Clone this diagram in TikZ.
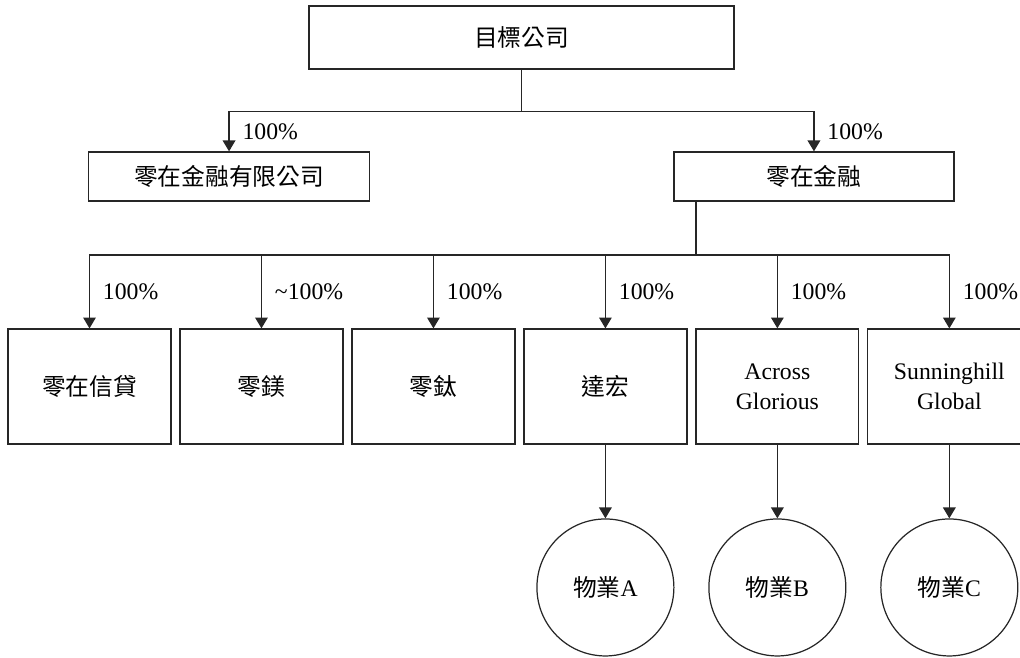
\documentclass[tikz,border=0pt]{standalone}
\usepackage{fontspec}
\setmainfont{Liberation Serif}
\newfontfamily\cjk{Noto Sans CJK TC}
\usepackage{tikz}
\usetikzlibrary{arrows.meta,positioning,calc}

\begin{document}
\begin{tikzpicture}[%
x=0.02cm, y=-0.02cm,
>={Triangle[width=7.2pt,length=6.2pt]},
node distance=3.44cm,
on grid,
every node/.style={font=\fontsize{13.5}{17}\selectfont},
box/.style={draw=black!85, line width=0.7pt, rectangle, align=center},
unit/.style={box, minimum width=3.26cm, minimum height=2.3cm},
prop/.style={draw=black!85, line width=0.7pt, circle, minimum size=2.74cm, inner sep=0pt},
link/.style={draw=black!85, line width=0.7pt},
pct/.style={right, xshift=4pt}
]
\useasboundingbox (0,0) rectangle (1020,658);

\node[box, minimum width=8.5cm, minimum height=1.26cm] (tc) at (521.5,37.5) {{\cjk 目標公司}};
\node[box, minimum width=5.62cm, minimum height=0.98cm] (zzltd) [below left=2.78cm and 5.85cm of tc] {{\cjk 零在金融有限公司}};
\node[box, minimum width=5.6cm, minimum height=0.98cm] (zz) [below right=2.78cm and 5.85cm of tc] {{\cjk 零在金融}};

\node[unit] (xd) at (89.5,386.5) {{\cjk 零在信貸}};
\node[unit] (mg) [right=of xd] {{\cjk 零鎂}};
\node[unit] (ti) [right=of mg] {{\cjk 零鈦}};
\node[unit] (dh) [right=of ti] {{\cjk 達宏}};
\node[unit] (ag) [right=of dh] {Across\\Glorious};
\node[unit] (sg) [right=of ag] {Sunninghill\\Global};

\node[prop] (pa) [below=4.02cm of dh] {{\cjk 物業}A};
\node[prop] (pb) [below=4.02cm of ag] {{\cjk 物業}B};
\node[prop] (pc) [below=4.02cm of sg] {{\cjk 物業}C};

% first level
\draw[link] (tc.south) -- ++(0,42) coordinate (b1);
\draw[link,->] (b1) -| node[pos=0.75, pct] {100\%} (zzltd.north);
\draw[link,->] (b1) -| node[pos=0.75, pct] {100\%} (zz.north);

% second level
\coordinate (b2) at (696,255);
\draw[link] (zz.south -| b2) -- (b2);
\draw[link,->] (b2) -| node[pos=0.75, pct] {100\%} (xd.north);
\draw[link,->] (b2) -| node[pos=0.75, pct] {\textasciitilde100\%} (mg.north);
\draw[link,->] (b2) -| node[pos=0.75, pct] {100\%} (ti.north);
\draw[link,->] (b2) -| node[pos=0.75, pct] {100\%} (dh.north);
\draw[link,->] (b2) -| node[pos=0.75, pct] {100\%} (ag.north);
\draw[link,->] (b2) -| node[pos=0.75, pct] {100\%} (sg.north);

% properties
\draw[link,->] (dh) -- (pa);
\draw[link,->] (ag) -- (pb);
\draw[link,->] (sg) -- (pc);
\end{tikzpicture}
\end{document}
